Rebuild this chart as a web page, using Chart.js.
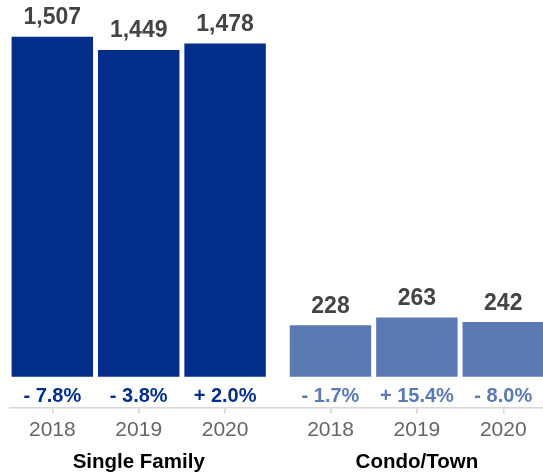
<!DOCTYPE html>
<html>
<head>
<meta charset="utf-8">
<script src="https://cdn.jsdelivr.net/npm/chart.js@4"></script>
<style>
  html, body { margin: 0; padding: 0; background: #fff; overflow: hidden; }
  #wrap { position: relative; width: 543px; height: 474px; }
</style>
</head>
<body>
<div id="wrap"><canvas id="chart"></canvas></div>
<script>
const years = ["2018", "2019", "2020"];
const groups = ["Single Family", "Condo/Town"];
const singleFamily = [1507, 1449, 1478];
const condoTown = [228, 263, 242];
const singleFamilyChange = [-7.8, -3.8, 2.0];
const condoTownChange = [-1.7, 15.4, -8.0];

const SF_COLOR = "#032e8a";
const CT_COLOR = "#5b79b2";
const FONT = "'Liberation Sans', Arial, Helvetica, sans-serif";

// extra room between the two groups, in bar slots
const GROUP_GAP = 0.22;
const slot = (g, i) => g * (years.length + GROUP_GAP) + i;

const series = [
    { label: groups[0], values: singleFamily, change: singleFamilyChange, color: SF_COLOR },
    { label: groups[1], values: condoTown, change: condoTownChange, color: CT_COLOR },
];

const tickSlots = [];
series.forEach((s, g) => years.forEach((y, i) => tickSlots.push(slot(g, i))));
const groupCenters = groups.map((name, g) => slot(g, (years.length - 1) / 2));

function fmtChange(v) {
    return (v < 0 ? "- " : "+ ") + Math.abs(v).toFixed(1) + "%";
}

const barLabels = {
    id: "barLabels",
    afterDatasetsDraw(chart) {
        const ctx = chart.ctx;
        const area = chart.chartArea;
        ctx.save();
        ctx.textAlign = "center";
        ctx.textBaseline = "alphabetic";
        chart.data.datasets.forEach((ds, di) => {
            const meta = chart.getDatasetMeta(di);
            const s = series[di];
            meta.data.forEach((bar, i) => {
                ctx.font = "bold 23px " + FONT;
                ctx.fillStyle = "#444";
                ctx.fillText(s.values[i].toLocaleString("en-US"), bar.x, bar.y - 12.5);

                ctx.font = "bold 20px " + FONT;
                ctx.fillStyle = s.color;
                ctx.fillText(fmtChange(s.change[i]), bar.x, area.bottom - 5.5);
            });
        });
        ctx.restore();
    }
};

new Chart(document.getElementById("chart"), {
    type: "bar",
    data: {
        datasets: series.map((s, g) => ({
            label: s.label,
            data: s.values.map((v, i) => ({ x: slot(g, i), y: v })),
            backgroundColor: s.color,
            grouped: false,
            categoryPercentage: 1,
            barPercentage: 0.943,
        }))
    },
    options: {
        responsive: true,
        maintainAspectRatio: false,
        animation: false,
        layout: { padding: { left: 10, right: 0, top: 0, bottom: 0 } },
        plugins: {
            legend: { display: false },
            tooltip: { enabled: false }
        },
        scales: {
            x: {
                type: "linear",
                position: "bottom",
                weight: 0,
                min: -0.49,
                max: 5.68,
                offset: false,
                afterBuildTicks: axis => { axis.ticks = tickSlots.map(v => ({ value: v })); },
                afterFit: axis => { axis.height = 38; },
                grid: {
                    offset: false,
                    drawOnChartArea: false,
                    drawTicks: true,
                    tickLength: 6,
                    color: "#d6d6d6",
                    lineWidth: 1.5
                },
                border: { display: true, color: "#d6d6d6", width: 1.5 },
                ticks: {
                    autoSkip: false,
                    maxRotation: 0,
                    padding: 4,
                    color: "#666",
                    font: { family: FONT, size: 21 },
                    callback: (v, i) => years[i % years.length]
                }
            },
            xg: {
                type: "linear",
                position: "bottom",
                weight: 1,
                min: -0.49,
                max: 5.68,
                offset: false,
                afterBuildTicks: axis => { axis.ticks = groupCenters.map(v => ({ value: v })); },
                afterFit: axis => { axis.height = 28.3; },
                grid: { display: false, drawTicks: false, offset: false },
                border: { display: false },
                ticks: {
                    autoSkip: false,
                    maxRotation: 0,
                    padding: 4,
                    color: "#000",
                    font: { family: FONT, size: 20.5, weight: "bold" },
                    callback: (v, i) => groups[i]
                }
            },
            y: {
                display: false,
                min: -137.5,
                max: 1670.5
            }
        }
    },
    plugins: [barLabels]
});
</script>
</body>
</html>
